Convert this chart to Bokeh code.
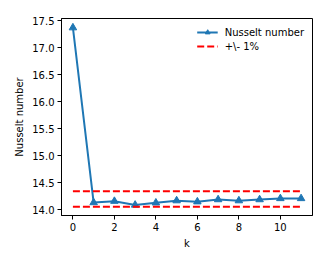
from bokeh.plotting import figure
from bokeh.models import Range1d, FixedTicker, Legend, LegendItem, NumeralTickFormatter
from bokeh.embed import file_html
from bokeh.resources import INLINE

k = [0, 1, 2, 3, 4, 5, 6, 7, 8, 9, 10, 11]
nusselt = [17.37, 14.135, 14.16, 14.09, 14.13, 14.17, 14.15, 14.19, 14.17, 14.19, 14.21, 14.21]
ref_value = 14.2
upper = [ref_value * 1.01] * len(k)
lower = [ref_value * 0.99] * len(k)

FONT = "DejaVu Sans"
FS = "10px"

p = figure(width=322, height=257, output_backend="svg", toolbar_location=None,
           x_range=Range1d(-0.55, 11.55), y_range=Range1d(13.895, 17.54),
           min_border_left=61, min_border_right=10, min_border_top=18, min_border_bottom=42)
p.grid.visible = False
p.outline_line_color = "black"
p.outline_line_width = 1
p.background_fill_color = "white"
p.border_fill_color = "white"

l1 = p.line(k, nusselt, line_color="#1f77b4", line_width=2)
s1 = p.scatter(k, nusselt, marker="triangle", size=7.5, fill_color="#1f77b4", line_color="#1f77b4")
r1 = p.line(k, upper, line_color="red", line_width=2, line_dash="7 3")
r2 = p.line(k, lower, line_color="red", line_width=2, line_dash="7 3")

legend = Legend(items=[LegendItem(label="Nusselt number", renderers=[l1, s1]),
                       LegendItem(label="+\\- 1%", renderers=[r1])],
                location="top_right")
legend.label_text_font = FONT
legend.label_text_font_size = FS
legend.label_text_color = "black"
legend.border_line_alpha = 0
legend.background_fill_alpha = 0.8
legend.glyph_width = 21
legend.glyph_height = 12
legend.label_standoff = 7
legend.spacing = 2
legend.padding = 4
legend.margin = 4
legend.label_height = 12
p.add_layout(legend)

p.xaxis.ticker = FixedTicker(ticks=[0, 2, 4, 6, 8, 10])
p.yaxis.ticker = FixedTicker(ticks=[14.0, 14.5, 15.0, 15.5, 16.0, 16.5, 17.0, 17.5])
p.yaxis.formatter = NumeralTickFormatter(format="0.0")
p.xaxis.axis_label = "k"
p.yaxis.axis_label = "Nusselt number"
for ax in (p.xaxis[0], p.yaxis[0]):
    ax.major_label_text_font = FONT
    ax.major_label_text_font_size = FS
    ax.major_label_text_color = "black"
    ax.axis_label_text_font = FONT
    ax.axis_label_text_font_size = FS
    ax.axis_label_text_color = "black"
    ax.axis_label_text_font_style = "normal"
    ax.major_tick_out = 4
    ax.major_tick_in = 0
    ax.minor_tick_out = 0
    ax.minor_tick_in = 0
    ax.major_label_standoff = 3
    ax.axis_label_standoff = 4
    ax.axis_line_color = "black"
    ax.major_tick_line_color = "black"

open("out.html", "w").write(file_html(p, INLINE))
